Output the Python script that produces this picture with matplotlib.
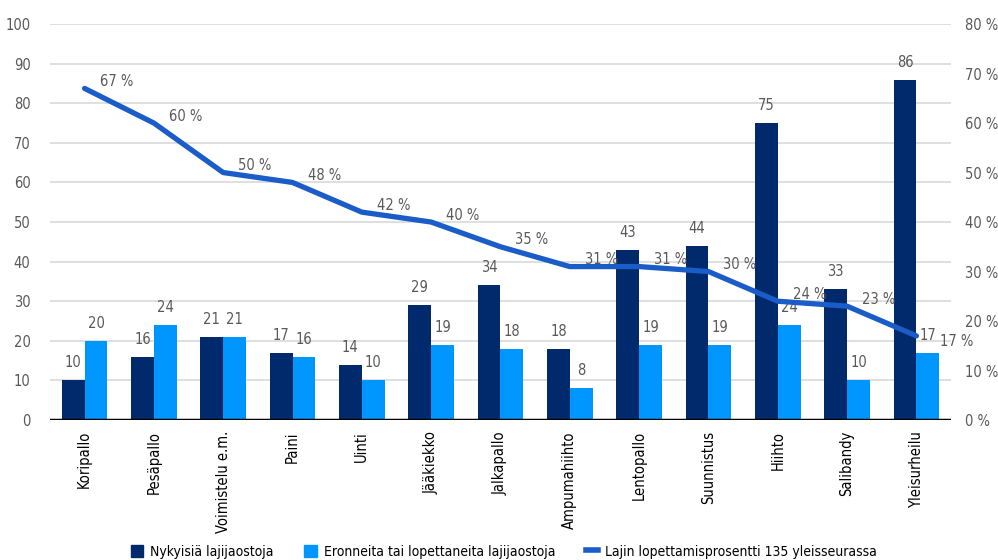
import matplotlib
matplotlib.use("Agg")
import matplotlib.pyplot as plt
import numpy as np
from matplotlib.lines import Line2D
from matplotlib.patches import Patch

plt.rcParams['font.family'] = ['DejaVu Sans']
plt.rcParams['font.stretch'] = 'condensed'

lajit = ['Koripallo', 'Pesäpallo', 'Voimistelu e.m.', 'Paini', 'Uinti', 'Jääkiekko',
         'Jalkapallo', 'Ampumahiihto', 'Lentopallo', 'Suunnistus', 'Hiihto',
         'Salibandy', 'Yleisurheilu']
nykyiset = [10, 16, 21, 17, 14, 29, 34, 18, 43, 44, 75, 33, 86]
eronneet = [20, 24, 21, 16, 10, 19, 18, 8, 19, 19, 24, 10, 17]
lopettamis = [67, 60, 50, 48, 42, 40, 35, 31, 31, 30, 24, 23, 17]

c_dark = '#002a6c'
c_light = '#0096ff'
c_line = '#1a5cc8'
c_text = '#595959'

fig = plt.figure(figsize=(9.98, 5.6), dpi=100)
ax = fig.add_axes([0.05, 0.25, 0.903, 0.707])
ax2 = ax.twinx()

x = np.arange(len(lajit))
w = 0.33
b1 = ax.bar(x - w / 2, nykyiset, w, color=c_dark, zorder=3)
b2 = ax.bar(x + w / 2, eronneet, w, color=c_light, zorder=3)

for bars, vals in ((b1, nykyiset), (b2, eronneet)):
    for r, v in zip(bars, vals):
        ax.annotate(str(v), (r.get_x() + r.get_width() / 2, v), xytext=(0, 10),
                    textcoords='offset pixels', ha='center', va='bottom',
                    fontsize=10.5, color=c_text)

ax.set_xlim(-0.5, len(lajit) - 0.5)
ax.set_ylim(0, 100)
ax.set_yticks(range(0, 101, 10))
ax.grid(axis='y', color='#d9d9d9', linewidth=1.2, zorder=0)
ax.set_axisbelow(True)
ax.set_xticks(x)
ax.set_xticklabels(lajit, rotation=90, fontsize=10, color='black')
ax.tick_params(axis='both', length=0, labelsize=10.5)
ax.tick_params(axis='y', colors=c_text, pad=14)
ax.tick_params(axis='x', pad=8)
for s in ax.spines.values():
    s.set_visible(False)
ax.axhline(0, color='black', linewidth=2.5, zorder=4)

# prosenttiviiva toisella akselilla
ax2.plot(x, lopettamis, color=c_line, linewidth=3.8, zorder=5, solid_capstyle='round')
for i, (xi, v) in enumerate(zip(x, lopettamis)):
    off = (24, -6) if i == len(x) - 1 else (15, 7)
    ax2.annotate('%d %%' % v, (xi, v), xytext=off, textcoords='offset pixels',
                 ha='left', va='center', fontsize=10.5, color=c_text)
ax2.set_ylim(0, 80)
ax2.set_yticks(range(0, 81, 10))
ax2.set_yticklabels(['%d %%' % t for t in range(0, 81, 10)])
ax2.tick_params(axis='y', length=0, labelsize=10.5, colors=c_text, pad=10)
for s in ax2.spines.values():
    s.set_visible(False)

handles = [Patch(color=c_dark), Patch(color=c_light),
           Line2D([], [], color=c_line, linewidth=4)]
names = ['Nykyisiä lajijaostoja', 'Eronneita tai lopettaneita lajijaostoja',
         'Lajin lopettamisprosentti 135 yleisseurassa']
fig.legend(handles, names, loc='lower center', bbox_to_anchor=(0.505, -0.02), ncol=3,
           frameon=False, fontsize=10, handlelength=0.9, handleheight=0.9,
           columnspacing=2.2, handletextpad=0.5)

fig.savefig('out.png', dpi=100)
